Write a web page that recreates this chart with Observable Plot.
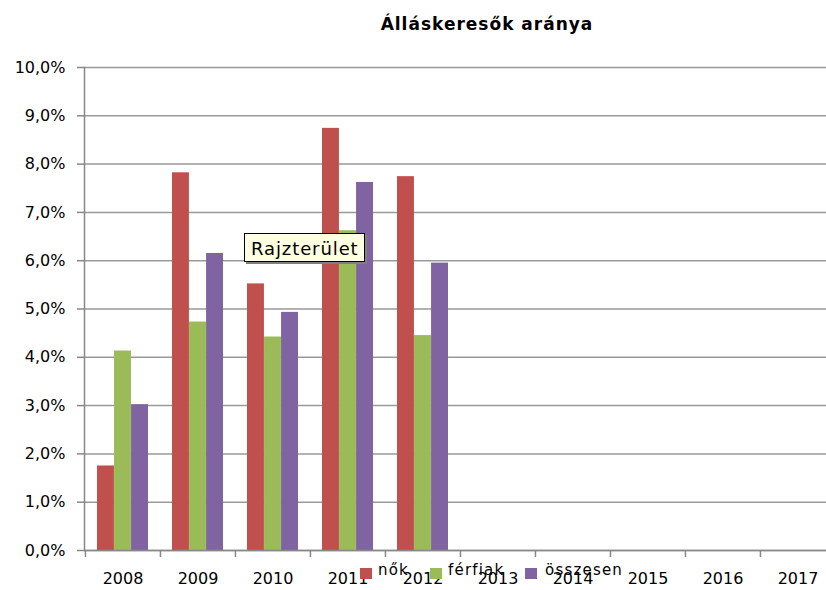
<!DOCTYPE html>
<html>
<head>
<meta charset="utf-8">
<script src="https://cdn.jsdelivr.net/npm/d3@7"></script>
<script src="https://cdn.jsdelivr.net/npm/@observablehq/plot@0.6"></script>
<style>
  html, body { margin: 0; padding: 0; background: #fff; overflow: hidden; }
  #wrap { position: relative; width: 826px; height: 590px; overflow: hidden; font-family: "DejaVu Sans", sans-serif; }
  #title { position: absolute; top: 14px; left: 0; width: 974px; text-align: center; font-weight: bold; font-size: 17px; letter-spacing: 1px; color: #000; }
  #chart { position: absolute; top: 0; left: 0; width: 845px; }
  #chart svg { max-width: none !important; }
  #legend { position: absolute; top: 563px; left: 360px; font-size: 15px; letter-spacing: 1.2px; color: #000; }
  .item { position: absolute; top: 0; white-space: nowrap; }
  .sw { position: absolute; top: 5px; width: 12px; height: 11px; }
  .lab { position: absolute; top: -2px; }
  #tip { position: absolute; left: 244px; top: 233px; width: 121px; height: 29px; background: #FFFFE1; border: 1px solid #000; box-shadow: 2px 2px 0 #808080; font-size: 18px; letter-spacing: 0.9px; line-height: 29px; padding-left: 6px; box-sizing: border-box; color: #000; }
</style>
</head>
<body>
<div id="wrap">
  <div id="chart"></div>
  <div id="title"></div>
  <div id="legend"></div>
  <div id="tip"></div>
</div>
<script>
const title = "Álláskeresők aránya";
const years = ["2008","2009","2010","2011","2012","2013","2014","2015","2016","2017"];
const series = ["nők","férfiak","összesen"];
const colors = ["#C0504D","#9BBB59","#8064A2"];
const nok      = [1.75, 7.82, 5.52, 8.74, 7.74];
const ferfiak  = [4.13, 4.73, 4.42, 6.62, 4.45];
const osszesen = [3.02, 6.15, 4.93, 7.62, 5.95];
const yTicks = [0,1,2,3,4,5,6,7,8,9,10];
const tooltipText = "Rajzterület";

const valuesBySeries = [nok, ferfiak, osszesen];

const width = 845, marginLeft = 84, marginRight = 10;
const step = (width - marginLeft - marginRight) / years.length;
const groupPad = 12;                       // gap at each side of a year's bar group
const barW = (step - 2 * groupPad) / series.length;

const barMarks = valuesBySeries.map((vals, si) =>
  Plot.barY(vals.map((v, i) => ({year: years[i], series: series[si], value: v})), {
    x: "year", y: "value", fill: "series",
    insetLeft: groupPad + si * barW,
    insetRight: step - groupPad - (si + 1) * barW
  })
);

const chart = Plot.plot({
  width,
  height: 590,
  marginTop: 67,
  marginBottom: 40,
  marginLeft,
  marginRight,
  style: {fontFamily: "DejaVu Sans, sans-serif", fontSize: "16px", color: "#000", background: "#fff", maxWidth: "none"},
  x: {domain: years, padding: 0, axis: null},
  y: {domain: [0, 10], axis: null},
  color: {domain: series, range: colors},
  marks: [
    Plot.gridY(yTicks, {stroke: "#999", strokeOpacity: 1, strokeWidth: 1.5}),
    ...barMarks,
    Plot.ruleY([0], {stroke: "#888", strokeWidth: 1.5}),
    Plot.frame({anchor: "left", stroke: "#888", strokeWidth: 1.5}),
    Plot.axisY(yTicks, {tickSize: 7, tickPadding: 12, stroke: "#888", strokeWidth: 1.5, letterSpacing: 0.6, label: null,
      tickFormat: d => d.toFixed(1).replace(".", ",") + "%"}),
    Plot.axisX({tickSize: 0, tickPadding: 22, label: null, letterSpacing: 1}),
    Plot.axisX({text: null, tickSize: 7, dx: -step / 2, label: null, stroke: "#888", strokeWidth: 1.5})
  ]
});
document.getElementById("chart").appendChild(chart);
document.getElementById("title").textContent = title;
document.getElementById("tip").textContent = tooltipText;

const legendX = [0, 70, 165];
const labelX = [18, 88, 185];
const legend = document.getElementById("legend");
series.forEach((s, i) => {
  const sw = document.createElement("div");
  sw.className = "sw";
  sw.style.left = legendX[i] + "px";
  sw.style.background = colors[i];
  legend.appendChild(sw);
  const lab = document.createElement("div");
  lab.className = "item lab";
  lab.style.left = labelX[i] + "px";
  lab.textContent = s;
  legend.appendChild(lab);
});
</script>
</body>
</html>
